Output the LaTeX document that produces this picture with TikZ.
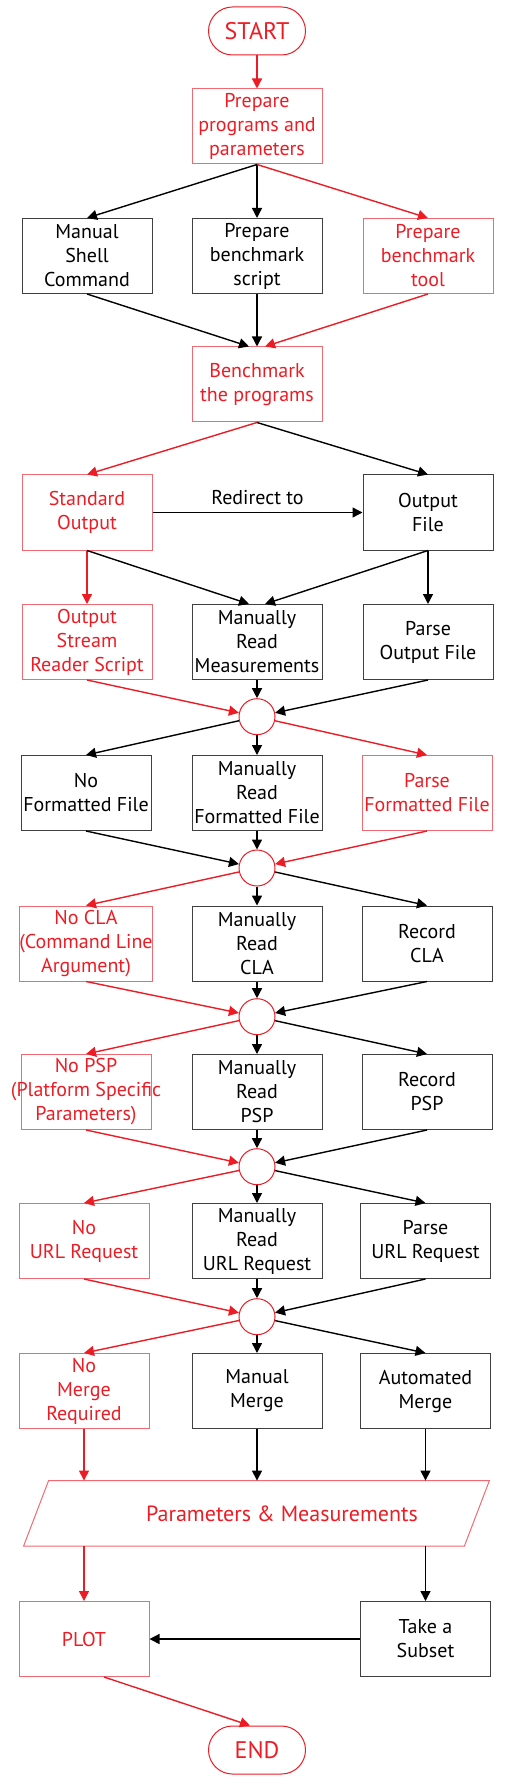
\documentclass[tikz,border=0pt]{standalone}
\usepackage{fontspec}
\setmainfont{PT Sans}
\usetikzlibrary{arrows.meta}
\definecolor{flowred}{HTML}{ED1C24}
\definecolor{flowpink}{HTML}{F16A72}
\definecolor{flowgrey}{HTML}{404040}

\begin{document}
\begin{tikzpicture}[x=0.5pt,y=-0.5pt,
		font=\fontsize{10}{12}\selectfont,
		box/.style={draw=flowgrey,line width=0.5pt,minimum width=65pt,minimum height=37.5pt,inner sep=0pt,align=center},
		redbox/.style={box,draw=flowpink,text=flowred},
		junc/.style={circle,draw=flowred,fill=white,line width=0.5pt,minimum size=18pt,inner sep=0pt},
		term/.style={draw=flowred,text=flowred,line width=0.5pt,rounded corners=12pt,minimum width=48.5pt,minimum height=24pt,font=\fontsize{12}{14}\selectfont},
		arr/.style={-{Triangle[length=5pt,width=5pt]},line width=0.7pt},
		redarr/.style={arr,flowred}]
			\useasboundingbox (0,0) rectangle (504,1780);
			%%%%% BOXES %%%%%
			\node[term] (start) at (257,31) {START};
			\node[redbox] (prep) at (257,126.5) {Prepare\\programs and\\parameters};
			
			\node[box] (shell) at (87,256) {Manual\\Shell\\Command};
			\node[box] (script) at (257,256) {Prepare\\benchmark\\script};
			\node[redbox] (tool) at (428,256) {Prepare\\benchmark\\tool};
			
			\node[redbox] (bench) at (257,384.5) {Benchmark\\the programs};
			
			\node[redbox] (stdout) at (87,512.5) {Standard\\Output};
			\node[box] (outfile) at (428,512.5) {Output\\File};
			
			\node[redbox] (reader) at (87,642) {Output\\Stream\\Reader Script};
			\node[box] (readmeas) at (257,642) {Manually\\Read\\Measurements};
			\node[box] (parseout) at (428,642) {Parse\\Output File};
			\node[junc] (j1) at (257,716.7) {};
			
			\node[box] (nofmt) at (86,793) {No\\Formatted File};
			\node[box] (readfmt) at (257,793) {Manually\\Read\\Formatted File};
			\node[redbox] (parsefmt) at (427,793) {Parse\\Formatted File};
			\node[junc] (j2) at (257,868) {};
			
			\node[redbox] (nocla) at (86,943.5) {No CLA\\(Command Line\\Argument)};
			\node[box] (readcla) at (257,943.5) {Manually\\Read\\CLA};
			\node[box] (reccla) at (427,943.5) {Record\\CLA};
			\node[junc] (j3) at (257,1016.7) {};
			
			\node[redbox] (nopsp) at (86,1092) {No PSP\\\makebox[0pt]{(Platform Specific}\\Parameters)};
			\node[box] (readpsp) at (257,1092) {Manually\\Read\\PSP};
			\node[box] (recpsp) at (427,1092) {Record\\PSP};
			\node[junc] (j4) at (257,1166.7) {};
			
			\node[redbox] (nourl) at (84,1241) {No\\URL Request};
			\node[box] (readurl) at (257,1241) {Manually\\Read\\URL Request};
			\node[box] (parseurl) at (425.5,1241) {Parse\\URL Request};
			\node[junc] (j5) at (257,1316.7) {};
			
			\node[redbox] (nomerge) at (84,1391) {No\\Merge\\Required};
			\node[box] (manmerge) at (257,1391) {Manual\\Merge};
			\node[box] (automerge) at (425.5,1391) {Automated\\Merge};
			
			\node[minimum width=220pt,minimum height=32.35pt,inner sep=0pt,text=flowred,font=\fontsize{11}{13}\selectfont] (params) at (256.5,1513.3) {\hspace*{25.5pt}Parameters \& Measurements};
			\draw[flowpink,line width=0.5pt] ([xshift=6.25pt]params.north west) -- ([xshift=6.25pt]params.north east) -- ([xshift=-6.25pt]params.south east) -- ([xshift=-6.25pt]params.south west) -- cycle;
			
			\node[redbox] (plot) at (84,1639) {PLOT};
			\node[box] (subset) at (425.5,1639) {Take a\\Subset};
			\node[term] (end) at (257,1750) {END};
			
			%%%%% ARROWS %%%%%
			\draw[redarr] (start) -- (prep);
			\draw[arr] (prep.south) -- (shell.north);
			\draw[arr] (prep) -- (script);
			\draw[redarr] (prep.south) -- (tool.north);
			\draw[arr] (shell.south) -- ([xshift=-4pt]bench.north);
			\draw[arr] (script) -- (bench);
			\draw[redarr] (tool.south) -- ([xshift=4pt]bench.north);
			
			\draw[redarr] (bench.south) -- (stdout.north);
			\draw[arr] (bench.south) -- (outfile.north);
			\draw[arr] (stdout) -- node[above] {Redirect to} (outfile);
			
			\draw[redarr] (stdout) -- (reader);
			\draw[arr] (stdout.south) -- ([xshift=-4pt]readmeas.north);
			\draw[arr] (outfile.south) -- ([xshift=4pt]readmeas.north);
			\draw[arr] (outfile) -- (parseout);
			
			\draw[redarr] (reader.south) -- (j1);
			\draw[arr] (readmeas) -- (j1);
			\draw[arr] (parseout.south) -- (j1);
			\draw[arr] (j1) -- (nofmt.north);
			\draw[arr] (j1) -- (readfmt);
			\draw[redarr] (j1) -- (parsefmt.north);
			
			\draw[arr] (nofmt.south) -- (j2);
			\draw[arr] (readfmt) -- (j2);
			\draw[redarr] (parsefmt.south) -- (j2);
			\draw[redarr] (j2) -- (nocla.north);
			\draw[arr] (j2) -- (readcla);
			\draw[arr] (j2) -- (reccla.north);
			
			\draw[redarr] (nocla.south) -- (j3);
			\draw[arr] (readcla) -- (j3);
			\draw[arr] (reccla.south) -- (j3);
			\draw[redarr] (j3) -- (nopsp.north);
			\draw[arr] (j3) -- (readpsp);
			\draw[arr] (j3) -- (recpsp.north);
			
			\draw[redarr] (nopsp.south) -- (j4);
			\draw[arr] (readpsp) -- (j4);
			\draw[arr] (recpsp.south) -- (j4);
			\draw[redarr] (j4) -- (nourl.north);
			\draw[arr] (j4) -- (readurl);
			\draw[arr] (j4) -- (parseurl.north);
			
			\draw[redarr] (nourl.south) -- (j5);
			\draw[arr] (readurl) -- (j5);
			\draw[arr] (parseurl.south) -- (j5);
			\draw[redarr] (j5) -- (nomerge.north);
			\draw[arr] (j5) -- (manmerge);
			\draw[arr] (j5) -- (automerge.north);
			
			\draw[redarr] (nomerge) -- (nomerge |- params.north);
			\draw[arr] (manmerge) -- (manmerge |- params.north);
			\draw[arr] (automerge) -- (automerge |- params.north);
			
			\draw[redarr] (plot |- params.south) -- (plot);
			\draw[arr] (subset |- params.south) -- (subset);
			\draw[arr] (subset) -- (plot);
			\draw[redarr] ([xshift=10pt]plot.south) -- ([xshift=-3.5pt]end.north);
		\end{tikzpicture}
\end{document}
